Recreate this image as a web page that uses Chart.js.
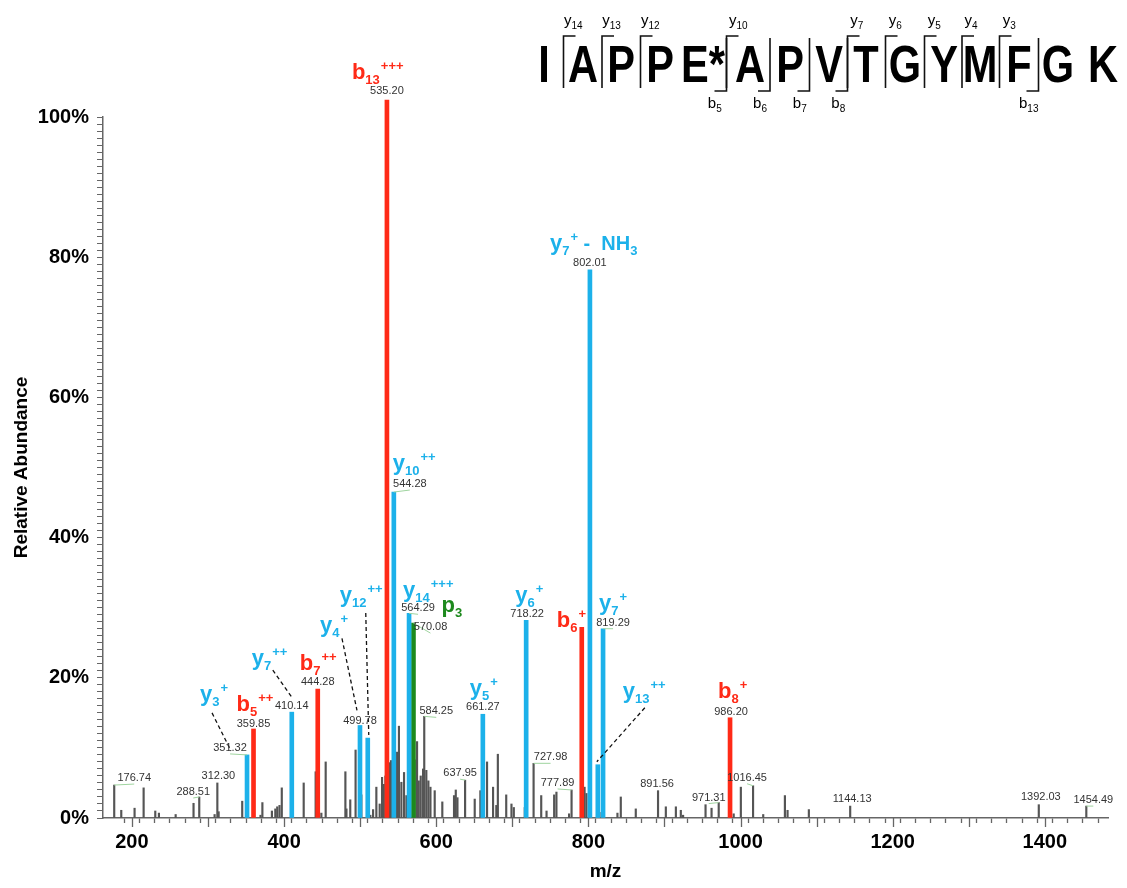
<!DOCTYPE html>
<html>
<head>
<meta charset="utf-8">
<script src="https://cdn.jsdelivr.net/npm/chart.js@4.4.1/dist/chart.umd.min.js"></script>
<style>
  html, body { margin: 0; padding: 0; background: #fff; }
  canvas { display: block; }
</style>
</head>
<body>
<canvas id="grafico" width="1127" height="888"></canvas>
<script>
// b ions (red)
const bMz = [359.85, 444.28, 535.20, 791.30, 986.20];
const bAbund = [12.7, 18.4, 102.4, 27.2, 14.3];
const bNum = ['5', '7', '13', '6', '8'];
const bCharge = ['++', '++', '+++', '+', '+'];

// y ions (blue)
const yMz = [351.32, 410.14, 499.78, 510.00, 544.28, 564.29, 661.27, 718.22, 802.01, 812.40, 819.29];
const yAbund = [9.0, 15.1, 13.2, 11.4, 46.5, 29.2, 14.8, 28.2, 78.2, 7.6, 27.0];
const yNum = ['3', '7', '4', '12', '10', '14', '5', '6', '7', '13', '7'];
const yCharge = ['+', '++', '+', '++', '++', '+++', '+', '+', '+', '++', '+'];
const yLoss = ['', '', '', '', '', '', '', '', 'NH3', '', ''];

// p ion (green)
const pMz = [570.08];
const pAbund = [27.8];
const pNum = ['3'];

// unassigned peaks (grey)
const otherMz = [176.74, 186.0, 203.5, 215.4, 230.7, 235.5, 257.5, 281.0, 288.51, 308.7, 312.30, 314.0,
  345.0, 369.0, 371.5, 384.0, 388.5, 391.0, 394.0, 397.0, 425.8, 441.5, 449.0, 454.7, 480.6, 482.0,
  487.0, 494.0, 501.6, 513.4, 517.0, 521.3, 525.7, 528.8, 531.0, 533.2, 538.0, 540.6, 543.3, 548.5,
  551.0, 554.2, 557.7, 560.8, 562.5, 571.7, 574.8, 577.0, 579.6, 582.7, 584.25, 587.0, 589.7, 592.4,
  598.0, 608.0, 623.4, 625.7, 627.9, 637.95, 650.6, 658.0, 666.8, 674.7, 679.0, 681.0, 692.0, 698.9,
  702.0, 716.4, 727.98, 738.0, 745.0, 755.0, 758.0, 774.6, 777.89, 795.0, 797.5, 817.2, 838.2, 842.6,
  862.3, 891.56, 901.8, 915.0, 921.5, 924.5, 954.0, 961.9, 971.31, 991.0, 1000.4, 1016.45, 1029.8,
  1058.3, 1061.8, 1089.8, 1144.13, 1392.03, 1454.49];
const otherAbund = [4.7, 1.1, 1.4, 4.3, 1.0, 0.7, 0.5, 2.1, 3.0, 0.5, 5.0, 0.9,
  2.4, 0.4, 2.2, 1.0, 1.3, 1.6, 1.8, 4.3, 5.0, 6.6, 0.7, 8.0, 6.6, 1.3,
  2.6, 9.7, 3.3, 0.4, 1.2, 4.4, 2.0, 5.8, 4.8, 6.0, 7.9, 8.2, 8.1, 9.4,
  13.1, 5.1, 6.5, 3.2, 1.2, 8.3, 10.9, 5.3, 6.0, 7.0, 14.5, 6.8, 5.3, 4.4,
  3.9, 2.3, 3.2, 4.0, 2.9, 5.4, 2.7, 3.9, 8.0, 4.4, 1.8, 9.1, 3.3, 2.0,
  1.5, 1.5, 7.8, 3.2, 1.0, 3.3, 3.7, 0.6, 4.0, 4.4, 3.5, 0.8, 0.7, 3.0,
  1.3, 3.9, 1.6, 1.6, 1.1, 0.4, 1.9, 1.4, 2.2, 0.6, 4.4, 4.6, 0.5,
  3.2, 1.1, 1.2, 1.7, 1.9, 1.7];

// m/z values printed above peaks
const shownMz = [176.74, 288.51, 312.30, 351.32, 359.85, 410.14, 444.28, 499.78, 535.20, 544.28, 564.29,
  570.08, 584.25, 637.95, 661.27, 718.22, 727.98, 777.89, 802.01, 819.29, 891.56, 971.31, 986.20,
  1016.45, 1144.13, 1392.03, 1454.49];

// peptide sequence and observed fragments
const residues = ['I', 'A', 'P', 'P', 'E*', 'A', 'P', 'V', 'T', 'G', 'Y', 'M', 'F', 'G', 'K'];
const yFragments = [14, 13, 12, 10, 7, 6, 5, 4, 3];
const bFragments = [5, 6, 7, 8, 13];

// ---- layout (pixel offsets, not data) ----
const FONT = '"Liberation Sans", Arial, Helvetica, sans-serif';
const RED = '#ff2a17', BLUE = '#1cb1ea', GREEN = '#1d891d', GREY = '#555555';
const bLabelAt = [[-17, -18], [-18, -19], [-35, -21], [-25, 0], [-12, -20]];
const yLabelAt = [[-47, -54], [-40, -47], [-40, -93], [-28, -136], [-1, -22], [-6, -16],
  [-13, -19], [-11, -18], [-40, -20], [25, -67], [-4, -19]];
const pLabelAt = [[28, -11]];
const yLeaders = {
  0: [[-35, -42], [-16, -4]],
  1: [[-19, -42], [0, -15]],
  2: [[-18, -87], [-3, -15]],
  3: [[-2, -125], [1, -3]],
  9: [[47, -57], [-1, -3]]
};
const valueAt = [[20, -7], [-6, -5], [1, -7], [-17, -7], [0, -5], [0, -6], [0, -7], [0, -4], [0, -9], [16, -8], [9, -5],
  [17, 4], [12, -5], [-5, -7], [0, -7], [1, -6], [17, -6], [-14, -7], [0, -7], [10, -6], [-1, -7], [-10, -5], [1, -6],
  [-6, -8], [2, -7], [2, -8], [7, -6]];
const residueX = [544, 583, 621, 660, 703, 750, 790, 829, 866, 905, 944, 980, 1019, 1058, 1103];

function pts(mz, ab) {
  return mz.map((m, i) => ({ x: m, y: ab[i] }));
}

function abundanceOf(mz) {
  const all = [[bMz, bAbund], [yMz, yAbund], [pMz, pAbund], [otherMz, otherAbund]];
  for (const [m, a] of all) {
    const i = m.indexOf(mz);
    if (i >= 0) return a[i];
  }
  return 0;
}

function drawIon(ctx, x, base, color, letter, num, charge, loss) {
  ctx.fillStyle = color;
  ctx.textAlign = 'left';
  ctx.textBaseline = 'alphabetic';
  ctx.font = `bold 22px ${FONT}`;
  ctx.fillText(letter, x, base);
  let cx = x + ctx.measureText(letter).width;
  ctx.font = `bold 13px ${FONT}`;
  ctx.fillText(num, cx, base + 5);
  cx += ctx.measureText(num).width + 1;
  if (charge) {
    ctx.fillText(charge, cx, base - 9);
    cx += ctx.measureText(charge).width;
  }
  if (loss) {
    ctx.font = `bold 20px ${FONT}`;
    ctx.fillText(' -  NH', cx, base);
    cx += ctx.measureText(' -  NH').width;
    ctx.font = `bold 13px ${FONT}`;
    ctx.fillText('3', cx, base + 5);
  }
}

const annotations = {
  id: 'annotations',
  afterDraw(chart) {
    const ctx = chart.ctx;
    const xs = chart.scales.x, ys = chart.scales.y;
    ctx.save();

    // longer ticks every 100 m/z
    ctx.strokeStyle = '#666';
    ctx.lineWidth = 1.3;
    xs.ticks.forEach(t => {
      if (t.value % 100 === 0) {
        const px = Math.round(xs.getPixelForValue(t.value)) + 0.5;
        ctx.beginPath();
        ctx.moveTo(px, ys.bottom);
        ctx.lineTo(px, ys.bottom + 9);
        ctx.stroke();
      }
    });

    // dashed leaders
    ctx.strokeStyle = '#111';
    ctx.lineWidth = 1.3;
    ctx.setLineDash([4, 3]);
    Object.keys(yLeaders).forEach(k => {
      const px = xs.getPixelForValue(yMz[k]), py = ys.getPixelForValue(yAbund[k]);
      const [a, b] = yLeaders[k];
      ctx.beginPath();
      ctx.moveTo(px + a[0], py + a[1]);
      ctx.lineTo(px + b[0], py + b[1]);
      ctx.stroke();
    });
    ctx.setLineDash([]);

    // printed m/z values
    shownMz.forEach((mz, i) => {
      const px = xs.getPixelForValue(mz), py = ys.getPixelForValue(abundanceOf(mz));
      const [dx, dy] = valueAt[i];
      if (Math.abs(dx) > 4) {
        ctx.strokeStyle = '#9fd49f';
        ctx.lineWidth = 1;
        ctx.beginPath();
        ctx.moveTo(px + dx, py + dy + 6);
        ctx.lineTo(px, py);
        ctx.stroke();
      }
      ctx.fillStyle = '#333';
      ctx.font = `11px ${FONT}`;
      ctx.textAlign = 'center';
      ctx.textBaseline = 'middle';
      ctx.fillText(mz.toFixed(2), px + dx, py + dy);
    });

    // ion labels
    bMz.forEach((mz, i) => {
      const px = xs.getPixelForValue(mz), py = ys.getPixelForValue(bAbund[i]);
      drawIon(ctx, px + bLabelAt[i][0], py + bLabelAt[i][1], RED, 'b', bNum[i], bCharge[i], '');
    });
    yMz.forEach((mz, i) => {
      const px = xs.getPixelForValue(mz), py = ys.getPixelForValue(yAbund[i]);
      drawIon(ctx, px + yLabelAt[i][0], py + yLabelAt[i][1], BLUE, 'y', yNum[i], yCharge[i], yLoss[i]);
    });
    pMz.forEach((mz, i) => {
      const px = xs.getPixelForValue(mz), py = ys.getPixelForValue(pAbund[i]);
      drawIon(ctx, px + pLabelAt[i][0], py + pLabelAt[i][1], GREEN, 'p', pNum[i], '', '');
    });

    // peptide sequence
    ctx.fillStyle = '#000';
    residues.forEach((r, i) => {
      ctx.save();
      ctx.translate(residueX[i], 82);
      ctx.scale(0.8, 1);
      ctx.font = `bold 52px ${FONT}`;
      ctx.textAlign = 'center';
      ctx.textBaseline = 'alphabetic';
      ctx.fillText(r, 0, 0);
      ctx.restore();
    });
    const n = residues.length;
    const cut = k => (residueX[k - 1] + residueX[k]) / 2;
    ctx.strokeStyle = '#111';
    ctx.lineWidth = 1.6;
    yFragments.forEach(f => {
      const k = n - f, x = cut(k);
      ctx.beginPath();
      ctx.moveTo(x + 12, 36);
      ctx.lineTo(x, 36);
      ctx.lineTo(x, 88);
      ctx.stroke();
      const lx = (x + residueX[k]) / 2;
      ctx.font = `15px ${FONT}`;
      ctx.textAlign = 'left';
      const w = ctx.measureText('y').width;
      ctx.font = `10px ${FONT}`;
      const ws = ctx.measureText(String(f)).width;
      const x0 = lx - (w + ws) / 2;
      ctx.font = `15px ${FONT}`;
      ctx.fillText('y', x0, 25);
      ctx.font = `10px ${FONT}`;
      ctx.fillText(String(f), x0 + w, 29);
    });
    bFragments.forEach(f => {
      const x = cut(f);
      ctx.beginPath();
      ctx.moveTo(x, 38);
      ctx.lineTo(x, 91);
      ctx.lineTo(x - 12, 91);
      ctx.stroke();
      const lx = (x + residueX[f - 1]) / 2;
      ctx.font = `15px ${FONT}`;
      ctx.textAlign = 'left';
      const w = ctx.measureText('b').width;
      ctx.font = `10px ${FONT}`;
      const ws = ctx.measureText(String(f)).width;
      const x0 = lx - (w + ws) / 2;
      ctx.font = `15px ${FONT}`;
      ctx.fillText('b', x0, 108);
      ctx.font = `10px ${FONT}`;
      ctx.fillText(String(f), x0 + w, 112);
    });

    ctx.restore();
  }
};

const config = {
  type: 'bar',
  data: {
    datasets: [
      { label: 'b', data: pts(bMz, bAbund), backgroundColor: RED, barThickness: 4, grouped: false, clip: false, order: 1 },
      { label: 'y', data: pts(yMz, yAbund), backgroundColor: BLUE, barThickness: 4, grouped: false, clip: false, order: 1 },
      { label: 'p', data: pts(pMz, pAbund), backgroundColor: GREEN, barThickness: 4, grouped: false, clip: false, order: 1 },
      { label: 'other', data: pts(otherMz, otherAbund), backgroundColor: GREY, barThickness: 1.5, grouped: false, order: 2 }
    ]
  },
  options: {
    responsive: false,
    animation: false,
    devicePixelRatio: 1,
    layout: { padding: { top: 117, right: 19, left: 0, bottom: 0 } },
    plugins: { legend: { display: false }, tooltip: { enabled: false } },
    scales: {
      x: {
        type: 'linear',
        min: 162,
        max: 1483,
        offset: false,
        border: { color: '#666', width: 1.5 },
        grid: { drawOnChartArea: false, drawTicks: true, tickLength: 5, tickColor: '#666', tickWidth: 1.3 },
        ticks: {
          stepSize: 20,
          autoSkip: false,
          maxRotation: 0,
          padding: 7,
          color: '#000',
          font: { family: FONT, size: 20, weight: 'bold' },
          callback: v => (v % 200 === 0 ? String(v) : '')
        },
        afterBuildTicks: s => { s.ticks = s.ticks.filter(t => t.value % 20 === 0); },
        afterFit: s => { s.height = 70; },
        title: {
          display: true,
          text: 'm/z',
          color: '#000',
          font: { family: FONT, size: 19, weight: 'bold' },
          padding: { top: 0, bottom: 5 }
        }
      },
      y: {
        min: 0,
        max: 100,
        border: { color: '#666', width: 1.5 },
        grid: { drawOnChartArea: false, drawTicks: true, tickLength: 6, tickColor: '#666', tickWidth: 1 },
        ticks: {
          stepSize: 1,
          autoSkip: false,
          maxTicksLimit: 200,
          padding: 8,
          color: '#000',
          font: { family: FONT, size: 20, weight: 'bold' },
          callback: v => (v % 20 === 0 ? v + '%' : '')
        },
        afterFit: s => { s.width = 103; },
        title: {
          display: true,
          text: 'Relative Abundance',
          color: '#000',
          font: { family: FONT, size: 19, weight: 'bold' },
          padding: { top: 10, bottom: 0 }
        }
      }
    }
  },
  plugins: [annotations]
};

const grafico = new Chart(document.getElementById('grafico'), config);
</script>
</body>
</html>
